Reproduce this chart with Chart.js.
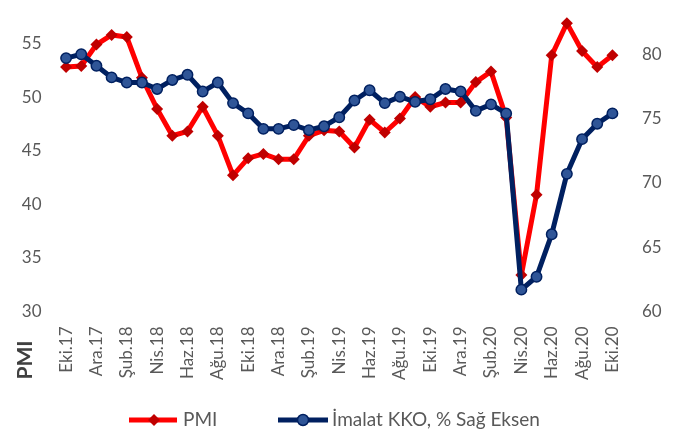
<!DOCTYPE html>
<html>
<head>
<meta charset="utf-8">
<script src="https://cdn.jsdelivr.net/npm/chart.js@4"></script>
<style>
  html, body { margin: 0; padding: 0; background: #fff; }
  #wrap { width: 685px; height: 434px; }
</style>
</head>
<body>
<div id="wrap"><canvas id="pmiChart" width="685" height="434"></canvas></div>
<script>
// Ekim 2017 - Ekim 2020, aylik
const months = [
  'Eki.17','Kas.17','Ara.17','Oca.18','Şub.18','Mar.18','Nis.18','May.18','Haz.18','Tem.18','Ağu.18','Eyl.18',
  'Eki.18','Kas.18','Ara.18','Oca.19','Şub.19','Mar.19','Nis.19','May.19','Haz.19','Tem.19','Ağu.19','Eyl.19',
  'Eki.19','Kas.19','Ara.19','Oca.20','Şub.20','Mar.20','Nis.20','May.20','Haz.20','Tem.20','Ağu.20','Eyl.20',
  'Eki.20'
];

const pmi = [
  52.8, 52.9, 54.9, 55.8, 55.6, 51.8, 48.9, 46.4, 46.8, 49.1, 46.4, 42.7,
  44.3, 44.7, 44.2, 44.2, 46.4, 46.9, 46.8, 45.3, 47.9, 46.7, 48.0, 50.0,
  49.1, 49.5, 49.5, 51.4, 52.4, 48.1, 33.4, 40.9, 53.9, 56.9, 54.3, 52.8,
  53.9
];

const kko = [
  79.7, 80.0, 79.1, 78.2, 77.8, 77.8, 77.3, 78.0, 78.4, 77.1, 77.8, 76.2,
  75.4, 74.2, 74.2, 74.5, 74.1, 74.4, 75.1, 76.4, 77.2, 76.2, 76.7, 76.3,
  76.5, 77.3, 77.1, 75.6, 76.1, 75.4, 61.7, 62.7, 66.0, 70.7, 73.4, 74.6,
  75.4
];

const leftTicks = [30, 35, 40, 45, 50, 55];
const rightTicks = [60, 65, 70, 75, 80];

const FONT = 'Lato';
const GREY = '#595959';

// legend + sol eksen basligi
const extras = {
  id: 'extras',
  afterDraw(chart) {
    const ctx = chart.ctx;
    ctx.save();
    const y = 420;

    // PMI
    ctx.strokeStyle = '#FF0000';
    ctx.lineWidth = 5;
    ctx.beginPath(); ctx.moveTo(129, y); ctx.lineTo(177, y); ctx.stroke();
    ctx.fillStyle = '#C00000';
    ctx.beginPath();
    ctx.moveTo(154, y - 6); ctx.lineTo(160, y); ctx.lineTo(154, y + 6); ctx.lineTo(148, y);
    ctx.closePath(); ctx.fill();

    // KKO
    ctx.strokeStyle = '#002060';
    ctx.beginPath(); ctx.moveTo(278, y); ctx.lineTo(328, y); ctx.stroke();
    ctx.fillStyle = '#2F5597';
    ctx.lineWidth = 1.5;
    ctx.beginPath(); ctx.arc(303, y, 5.5, 0, Math.PI * 2); ctx.fill(); ctx.stroke();

    ctx.fillStyle = GREY;
    ctx.font = '19px ' + FONT;
    ctx.textBaseline = 'middle';
    ctx.textAlign = 'left';
    ctx.fillText(chart.data.datasets[1].label, 183, y);
    ctx.fillText(chart.data.datasets[0].label, 332, y);

    // PMI eksen basligi
    ctx.translate(25, 360);
    ctx.rotate(-Math.PI / 2);
    ctx.textAlign = 'center';
    ctx.fillStyle = '#404040';
    ctx.font = 'bold 21px ' + FONT;
    ctx.fillText('PMI', 0, 0);
    ctx.restore();
  }
};

new Chart(document.getElementById('pmiChart'), {
  type: 'line',
  data: {
    labels: months,
    datasets: [{
      label: 'İmalat KKO, % Sağ Eksen',
      data: kko,
      yAxisID: 'y2',
      borderColor: '#002060',
      borderWidth: 5,
      pointStyle: 'circle',
      pointRadius: 5.2,
      pointBackgroundColor: '#2F5597',
      pointBorderColor: '#002060',
      pointBorderWidth: 1.5,
      tension: 0,
      clip: false,
      order: 0
    }, {
      label: 'PMI',
      data: pmi,
      yAxisID: 'y',
      borderColor: '#FF0000',
      borderWidth: 5,
      pointStyle: 'rectRot',
      pointRadius: 6,
      pointBackgroundColor: '#C00000',
      pointBorderColor: '#C00000',
      pointBorderWidth: 0,
      tension: 0,
      clip: false,
      order: 1
    }]
  },
  options: {
    responsive: false,
    animation: false,
    layout: { autoPadding: false, padding: { top: 12, left: 0, right: 0, bottom: 0 } },
    plugins: {
      legend: { display: false },
      tooltip: { enabled: false }
    },
    scales: {
      x: {
        offset: true,
        grid: { display: false, drawTicks: false },
        border: { display: false },
        ticks: {
          autoSkip: false,
          minRotation: 90,
          maxRotation: 90,
          padding: 15,
          color: GREY,
          font: { family: FONT, size: 17 },
          callback: (v, i) => (i % 2 === 0 ? months[i] : '')
        },
        afterFit: s => { s.height = 122.5; }
      },
      y: {
        position: 'left',
        min: 30,
        max: 57,
        grid: { display: false, drawTicks: false },
        border: { display: false },
        ticks: { stepSize: 5, padding: 17, color: GREY, font: { family: FONT, size: 17, lineHeight: 0.01 } },
        afterBuildTicks: s => { s.ticks = leftTicks.map(v => ({ value: v })); },
        afterFit: s => { s.width = 58.5; }
      },
      y2: {
        position: 'right',
        min: 60,
        max: 82.5,
        grid: { display: false, drawTicks: false },
        border: { display: false },
        ticks: { stepSize: 5, padding: 22, color: GREY, font: { family: FONT, size: 17, lineHeight: 0.01 } },
        afterBuildTicks: s => { s.ticks = rightTicks.map(v => ({ value: v })); },
        afterFit: s => { s.width = 65; }
      }
    }
  },
  plugins: [extras]
});
</script>
</body>
</html>
